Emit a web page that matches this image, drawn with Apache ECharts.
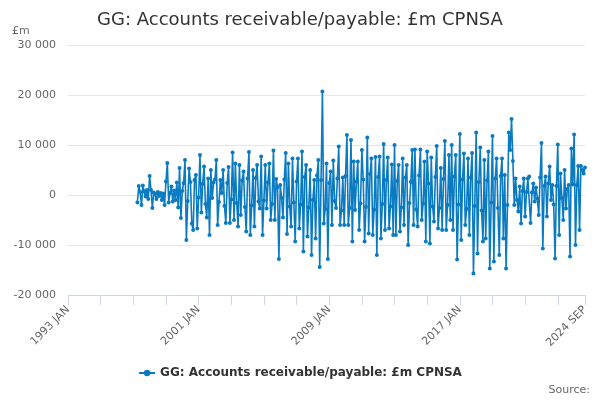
<!DOCTYPE html>
<html>
<head>
<meta charset="utf-8">
<script src="https://cdn.jsdelivr.net/npm/echarts@6/dist/echarts.min.js"></script>
<style>
  html, body { margin: 0; padding: 0; background: #fff; }
  #chart { width: 600px; height: 400px; }
</style>
</head>
<body>
<div id="chart"></div>
<script>
// axis runs 1993 JAN .. 2024 SEP, series begins 1997 APR
const MONTHS = ['JAN', 'FEB', 'MAR', 'APR', 'MAY', 'JUN', 'JUL', 'AUG', 'SEP', 'OCT', 'NOV', 'DEC'];
const firstYear = 1993;
const lastYear = 2024;
const lastMonthIndex = 8; // SEP
const leadingGap = 51;    // months with no data before 1997 APR

const yTicks = [-20000, -10000, 0, 10000, 20000, 30000];

// £m, one line per year (1997 from APR, 2024 to SEP)
const receivablePayable = [
  -1500, 1800, 600, -2000, 1900, 700, -300, 1000, -800,
  3800, 1000, -2600, 500, 200, -800, 600, -200, 400, -1000, 300, -2000,
  2700, 6400, -1500, 400, 1700, -1300, 900, -1000, 2500, -2500, 5400, -4600,
  800, 2400, 7000, -9000, -1200, 5300, 2600, -5700, -7000, 3000, 4000, -6700,
  -500, 8000, -3500, 2200, 5700, -1800, -4500, 3300, -8000, 5000, -600, 2500,
  3100, 7000, -6000, -1400, 3000, 400, 5000, -2200, -5600, 2400, 5600, -5600,
  -900, 8500, -5000, 6300, -1600, -6300, 6000, -4000, 2900, 4700, -2400, -7300,
  3300, 8600, -8000, -2100, 5000, -6300, 3400, 6000, -1300, -2700, 7700, -8000,
  -1100, 6000, -2700, 2500, 6300, -5000, -1800, 8900, -5000, 3200, 1500, -12800,
  2000, -600, -4500, 3100, 8400, -7800, 6300, -2300, -6300, 7300, -1500, -9300,
  2700, 7300, -6700, -1900, 8700, -11300, 3600, 6000, -8300, -2500, 5000, -12000,
  -1000, 3000, -8700, 3900, 7000, -14400, 3000, 20700, -5700, -2800, 6300, -12800,
  2400, 4700, -6000, 6900, -1200, -2600, 3300, 9700, -6000, -3100, 3500, -6000,
  3800, 12000, -6000, -2600, 11000, -9300, 6700, -3000, 2700, 6700, -7000, -1700,
  9000, 3100, -9300, -2400, 11500, -7700, 4200, 7300, -8000, -2900, 7600, -12000,
  3600, 7700, -8700, -1800, 10200, -7000, 3000, 7500, -6700, -2300, 6100, -8000,
  10000, -8000, 2800, 6000, -7300, -2500, 7300, -6000, 3500, 6000, -10000, -1600,
  2600, 9000, -6000, 9100, -2900, -6300, 3900, 9100, -5000, -1700, 6700, -9300,
  8700, 2300, -9700, 7500, -2300, -5300, 3600, 9800, -6700, -2600, 5400, -7000,
  3200, 10800, -7000, -2000, 8000, -5000, 10000, -7000, 3700, 8000, -12900, -1900,
  12200, -9000, 3100, 8300, -6000, -2800, 7300, -8000, 3500, 8400, -15700, -2200,
  12500, -11700, 2600, 9500, -3100, -9300, 7000, -8700, 2900, 8700, -14700, -1500,
  11800, -13300, 3300, 7300, -2600, -12000, 3800, 7300, -8700, 4000, -14700, -2000,
  12500, 9000, 15200, 6800, -2000, 3300, -1000, -3300, 1700, -5700, 800, 3300,
  -4300, 600, 3300, 3700, -5600, 500, 2300, -1300, 1500, -700, -4000, 3500,
  10400, -10700, 1800, 3700, -4300, 2300, 5700, -1000, 2000, -1900, -12700, 1800,
  10100, -8000, 4300, -600, -5000, 5000, -2700, 1200, 2000, -12300, 9300, 2100,
  12100, -10000, 2000, 5800, -7000, 5800, 5000, 4300, 5500
];

const seriesName = 'GG: Accounts receivable/payable: £m CPNSA';

let categories = [];
for (let y = firstYear; y <= lastYear; y++) {
  for (let m = 0; m < 12; m++) {
    if (y === lastYear && m > lastMonthIndex) break;
    categories.push(y + ' ' + MONTHS[m]);
  }
}
const lastIdx = categories.length - 1;

let seriesData = new Array(leadingGap).fill(null).concat(receivablePayable);

function spaced(v) {
  return String(v).replace(/\B(?=(\d{3})+(?!\d))/g, ' ');
}

const font = 'DejaVu Sans';
const chart = echarts.init(document.getElementById('chart'));

let option = {
  animation: false,
  textStyle: { fontFamily: font },
  title: {
    text: seriesName,
    left: 'center',
    top: 6,
    textStyle: { fontFamily: font, fontSize: 18, fontWeight: 'normal', color: '#333' }
  },
  grid: { left: 68, right: 15, top: 45, bottom: 105, containLabel: false },
  xAxis: {
    type: 'category',
    data: categories,
    boundaryGap: false,
    axisLine: { onZero: false, lineStyle: { color: '#ccd6eb', width: 1 } },
    axisTick: {
      length: 10,
      lineStyle: { color: '#ccd6eb' },
      interval: function (i) { return i % 24 === 0 || i === lastIdx; }
    },
    axisLabel: {
      rotate: 45,
      fontSize: 11,
      color: '#666',
      margin: 13,
      interval: function (i) { return i % 96 === 0 || i === lastIdx; }
    },
    splitLine: { show: false }
  },
  yAxis: {
    type: 'value',
    min: yTicks[0],
    max: yTicks[yTicks.length - 1],
    interval: 10000,
    axisLine: { show: false },
    axisTick: { show: false },
    axisLabel: { fontSize: 11, color: '#666', margin: 12, formatter: spaced },
    splitLine: { lineStyle: { color: '#e6e6e6', width: 1 } }
  },
  legend: {
    bottom: 16,
    left: 'center',
    itemWidth: 16,
    itemHeight: 8,
    textStyle: { fontFamily: font, fontSize: 12, fontWeight: 'bold', color: '#333' },
    data: [seriesName]
  },
  graphic: [
    { type: 'text', left: 12, top: 26, style: { text: '£m', fontFamily: font, fontSize: 11, fill: '#666' } },
    { type: 'text', right: 10, bottom: 4, style: { text: 'Source:', fontFamily: font, fontSize: 11, fill: '#666' } }
  ],
  series: [{
    name: seriesName,
    type: 'line',
    data: seriesData,
    connectNulls: false,
    symbol: 'circle',
    symbolSize: 4,
    showAllSymbol: true,
    itemStyle: { color: '#0a7bc1' },
    lineStyle: { color: '#0a7bc1', width: 1.6 }
  }]
};

chart.setOption(option);
</script>
</body>
</html>
